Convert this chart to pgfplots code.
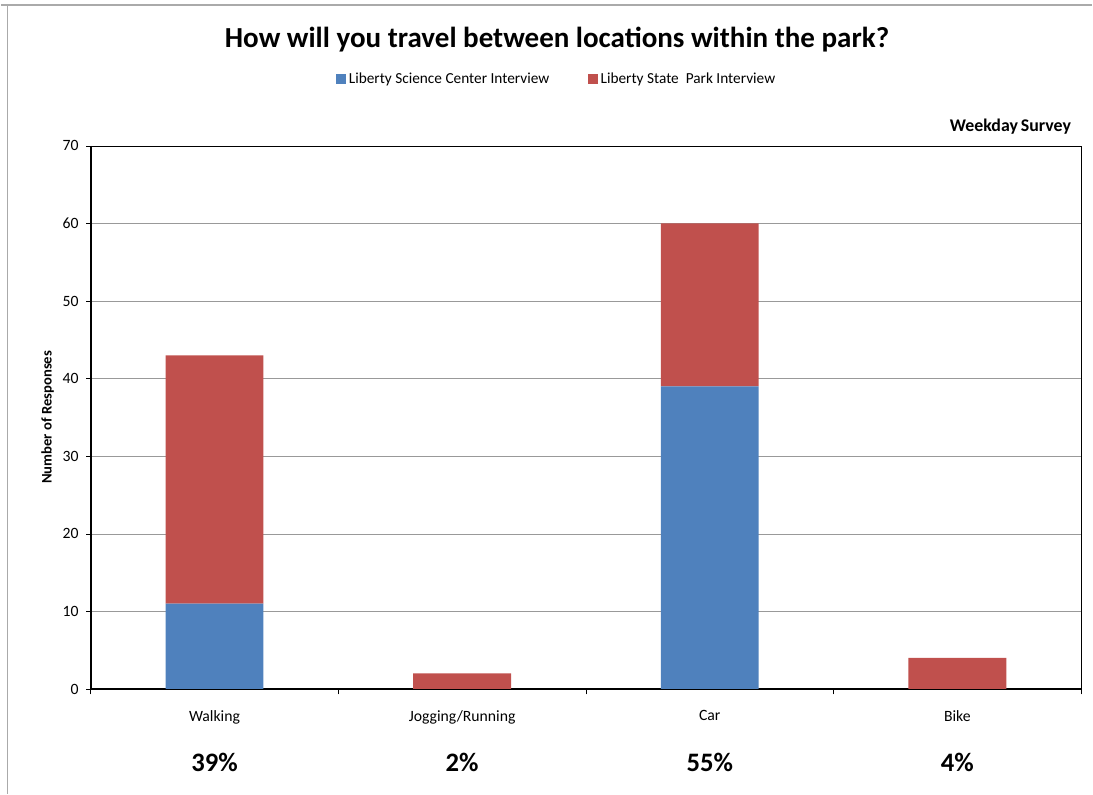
\documentclass[border=0pt]{standalone}
\usepackage{fontspec}
\setmainfont{Carlito}
\usepackage{pgfplots}
\pgfplotsset{compat=1.18}
\definecolor{lscblue}{RGB}{79,129,189}
\definecolor{lspred}{RGB}{192,80,77}
\definecolor{framegray}{RGB}{170,170,170}
\begin{document}
\begin{tikzpicture}[x=0.75pt,y=0.75pt]
% page frame (pixel units, y measured up from the bottom)
\path (0,0) rectangle (1093,795);
\draw[framegray, line width=1.2pt] (0,790) -- (1093,790);
\draw[framegray, line width=0.8pt] (7,790) -- (7,0);

\node[font=\fontsize{21.8}{26}\selectfont\bfseries] at (557,755) {How will you travel between locations within the park?};
\node[font=\fontsize{13.4}{15}\selectfont\bfseries, anchor=east, inner sep=0pt] at (1072,668) {Weekday\,Survey};
\node[font=\fontsize{11}{13}\selectfont\bfseries, rotate=90] at (47,377) {Number of Responses};

\begin{axis}[
  at={(67.5pt,78.75pt)}, anchor=south west,
  scale only axis,
  width=744pt, height=408pt,
  ybar stacked,
  bar width=73.5pt,
  xmin=-0.5, xmax=3.5,
  ymin=0, ymax=70,
  xtick={0,1,2,3},
  xticklabels={Walking,Jogging/Running,Car,Bike},
  minor xtick={-0.5,0.5,1.5,2.5,3.5},
  ytick={0,10,...,70},
  tick align=outside,
  xtick pos=bottom, ytick pos=left,
  major x tick style={draw=none},
  minor tick length=4pt,
  major tick length=3.5pt,
  tick style={black, thin},
  ymajorgrids,
  grid style={gray!80, thin},
  axis line style={black, thin},
  /pgf/number format/assume math mode=true,
  tick label style={font=\fontsize{11.8}{14}\selectfont},
  xticklabel style={yshift=-9pt},
  yticklabel style={xshift=-2pt},
  legend style={at={(0.4708,1)}, anchor=south, yshift=43pt, draw=none,
    font=\fontsize{11.5}{13}\selectfont, legend columns=2,
    /tikz/every even column/.append style={column sep=27pt},
    inner sep=0pt},
  legend image code/.code={\fill[#1] (0pt,-3.75pt) rectangle (7.5pt,3.75pt);},
  legend cell align=left,
  clip=false,
]
\addplot[fill=lscblue, draw=none] coordinates {(0,11) (1,0) (2,39) (3,0)};
\addplot[fill=lspred, draw=none] coordinates {(0,32) (1,2) (2,21) (3,4)};
\legend{Liberty Science Center Interview, Liberty State\ \ Park Interview}
\draw[black, line width=1.5pt] (rel axis cs:0,1) -- (rel axis cs:0,0) -- (rel axis cs:1,0);
\node[font=\fontsize{20}{24}\selectfont\bfseries, yshift=-55pt] at (axis cs:0,0) {39\%};
\node[font=\fontsize{20}{24}\selectfont\bfseries, yshift=-55pt] at (axis cs:1,0) {2\%};
\node[font=\fontsize{20}{24}\selectfont\bfseries, yshift=-55pt] at (axis cs:2,0) {55\%};
\node[font=\fontsize{20}{24}\selectfont\bfseries, yshift=-55pt] at (axis cs:3,0) {4\%};
\end{axis}
\end{tikzpicture}
\end{document}
